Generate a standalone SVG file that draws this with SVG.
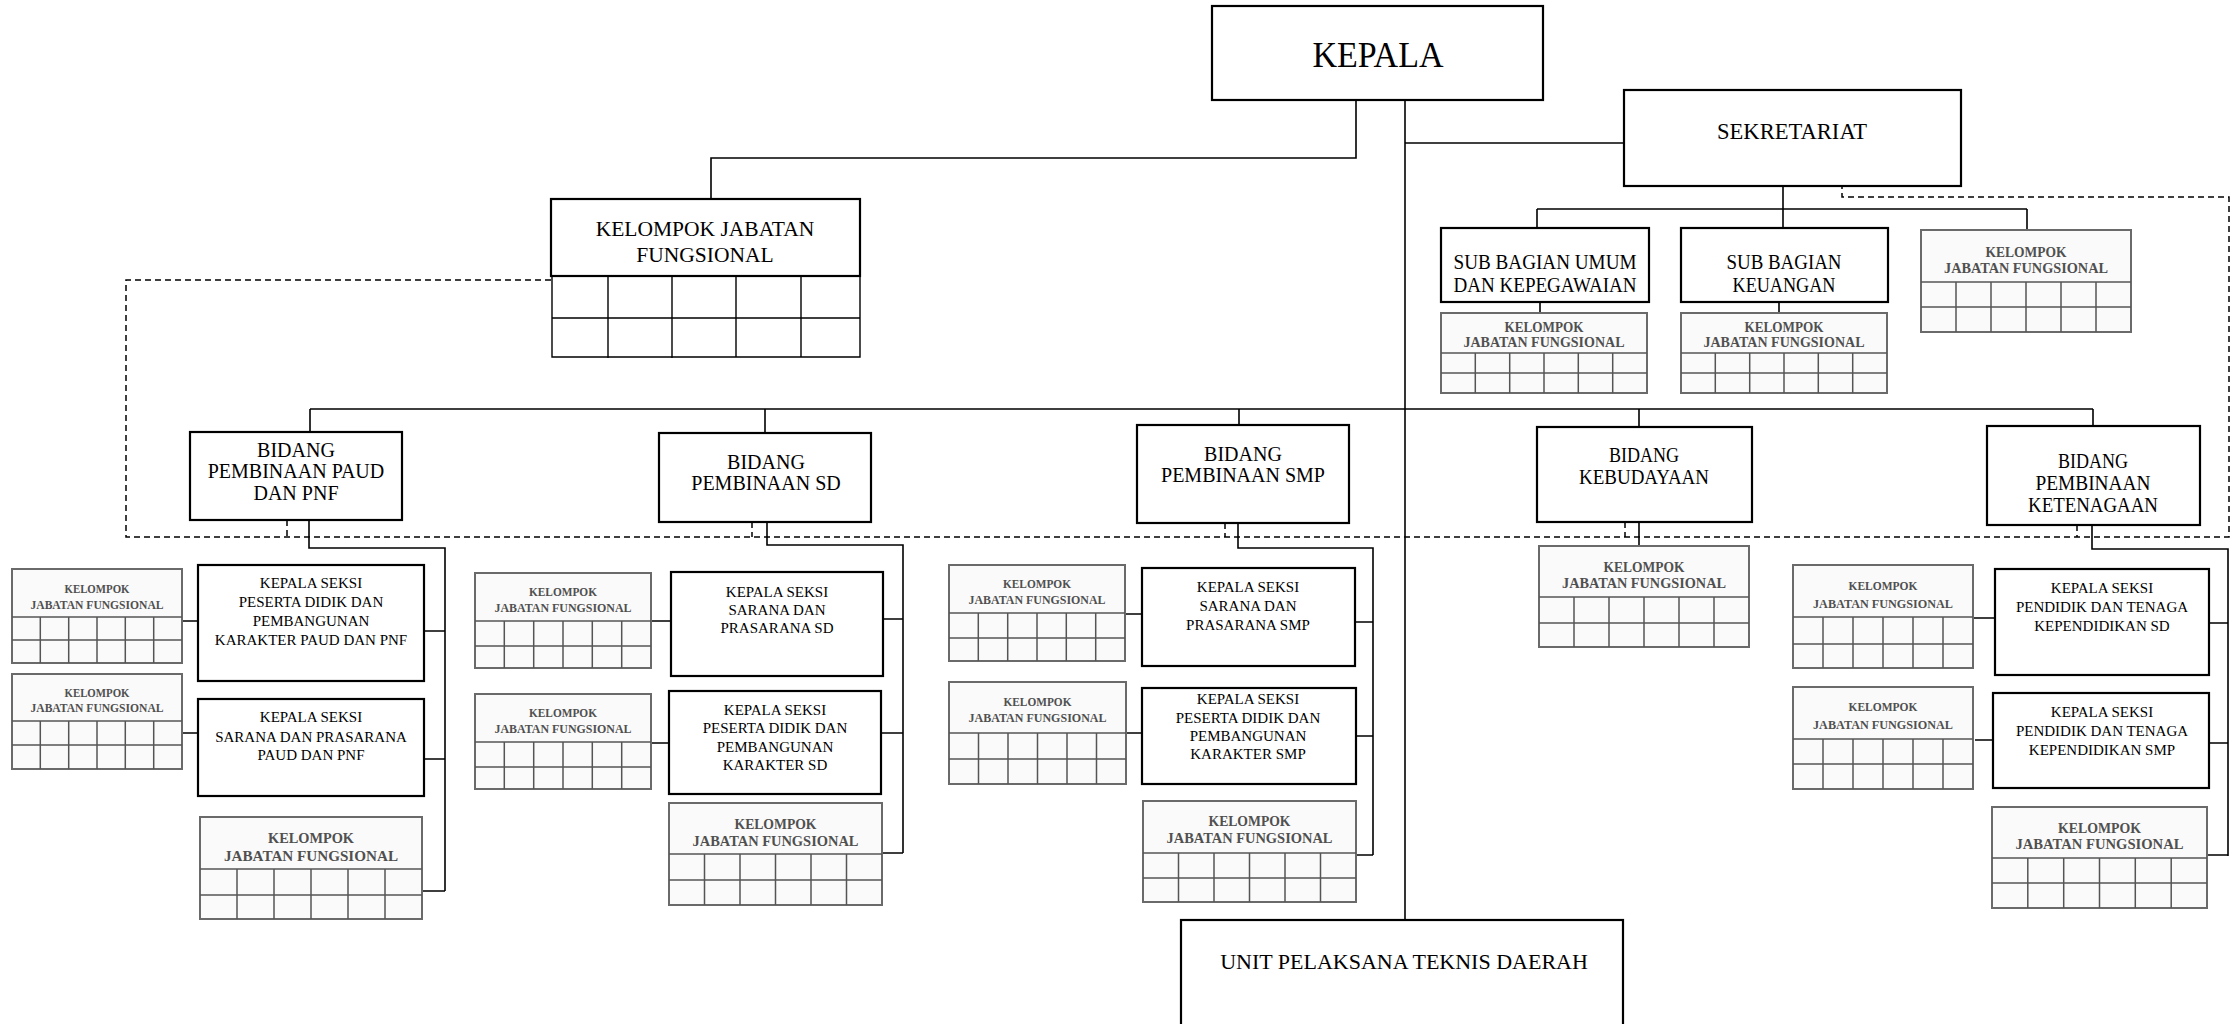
<svg xmlns="http://www.w3.org/2000/svg" width="2240" height="1024" viewBox="0 0 2240 1024">
<style>
.bg{fill:#fff}
.box{fill:#fff;stroke:#000;stroke-width:2.2}
.kjf{fill:#fafafa;stroke:#6a6a6a;stroke-width:2}
.grid{stroke:#555;stroke-width:1.5;fill:none}
.bgrid{stroke:#000;stroke-width:1.4;fill:none}
.conn{stroke:#000;stroke-width:1.6;fill:none}
.dash{stroke:#000;stroke-width:1.5;fill:none;stroke-dasharray:6 4}
.t{font-family:"Liberation Serif",serif;fill:#000;text-anchor:middle}
.kt{font-family:"Liberation Serif",serif;font-weight:bold;fill:#505050;text-anchor:middle}
</style>
<rect class="bg" x="0" y="0" width="2240" height="1024"/>

<g id="connectors">
  <path class="conn" d="M1356 100 V158 H711 V199"/>
  <path class="conn" d="M1405 100 V920"/>
  <path class="conn" d="M1405 143 H1624"/>
  <path class="conn" d="M1783 186 V228 M1537 209 H2027 M1537 209 V228 M2027 209 V230"/>
  <path class="conn" d="M1540 302 V313 M1779 302 V313"/>
  <path class="conn" d="M310 409 H2093 M310 409 V432 M765 409 V433 M1239 409 V425 M1639 409 V427 M2093 409 V426"/>
  <path class="conn" d="M309 520 V548 H445 V891 M424 631 H445 M424 759 H445 M422 891 H445 M182 621 H198 M182 733 H198"/>
  <path class="conn" d="M767 522 V545 H903 V853 M883 619 H903 M881 733 H903 M882 853 H903 M651 621 H671 M651 743 H669"/>
  <path class="conn" d="M1238 523 V548 H1373 V855 M1355 622 H1373 M1356 736 H1373 M1356 855 H1373 M1125 614 H1142 M1126 733 H1142"/>
  <path class="conn" d="M1639 522 V546"/>
  <path class="conn" d="M2092 525 V549 H2228 V856 M2209 623 H2228 M2209 743 H2228 M2207 855 H2228 M1973 618 H1995 M1975 740 H1993"/>
  <path class="dash" d="M551 280 H126 V537 H2229 V197 H1842 V186"/>
  <path class="dash" d="M287 520 V537 M752 522 V537 M1225 523 V537 M1625 522 V537 M2077 525 V537"/>
</g>

<g id="kepala">
  <rect class="box" x="1212" y="6" width="331" height="94"/>
  <text class="t" x="1378" y="67" font-size="36" textLength="131" lengthAdjust="spacingAndGlyphs">KEPALA</text>
</g>

<g id="sekretariat">
  <rect class="box" x="1624" y="90" width="337" height="96"/>
  <text class="t" x="1792" y="139" font-size="23" textLength="150" lengthAdjust="spacingAndGlyphs">SEKRETARIAT</text>
</g>

<g id="kjf-top">
  <rect class="box" x="551" y="199" width="309" height="77"/>
  <text class="t" x="705" y="236" font-size="21.5">KELOMPOK JABATAN</text>
  <text class="t" x="705" y="262" font-size="21.5">FUNGSIONAL</text>
  <path class="bgrid" d="M552 276 V357 H860 V276 M552 318 H860 M608 276 V358 M672 276 V358 M736 276 V357 M801 276 V357"/>
</g>

<g id="sub-umum">
  <rect class="box" x="1441" y="228" width="208" height="74"/>
  <text class="t" x="1545" y="269" font-size="20" textLength="183" lengthAdjust="spacingAndGlyphs">SUB BAGIAN UMUM</text>
  <text class="t" x="1545" y="292" font-size="20" textLength="183" lengthAdjust="spacingAndGlyphs">DAN KEPEGAWAIAN</text>
</g>
<g id="sub-keuangan">
  <rect class="box" x="1681" y="228" width="207" height="74"/>
  <text class="t" x="1784" y="269" font-size="20" textLength="115" lengthAdjust="spacingAndGlyphs">SUB BAGIAN</text>
  <text class="t" x="1784" y="292" font-size="20" textLength="103" lengthAdjust="spacingAndGlyphs">KEUANGAN</text>
</g>

<g id="kjf-sbu">
  <rect class="kjf" x="1441" y="313" width="206" height="80"/>
  <path class="grid" d="M1441 353 H1647 M1441 373 H1647 M1475.3 353 V393 M1509.7 353 V393 M1544 353 V393 M1578.3 353 V393 M1612.7 353 V393"/>
  <text class="kt" x="1544" y="332" font-size="14.4" textLength="79" lengthAdjust="spacingAndGlyphs">KELOMPOK</text>
  <text class="kt" x="1544" y="347" font-size="14.4" textLength="161" lengthAdjust="spacingAndGlyphs">JABATAN FUNGSIONAL</text>
</g>
<g id="kjf-sbk">
  <rect class="kjf" x="1681" y="313" width="206" height="80"/>
  <path class="grid" d="M1681 353 H1887 M1681 373 H1887 M1715.3 353 V393 M1749.7 353 V393 M1784 353 V393 M1818.3 353 V393 M1852.7 353 V393"/>
  <text class="kt" x="1784" y="332" font-size="14.4" textLength="79" lengthAdjust="spacingAndGlyphs">KELOMPOK</text>
  <text class="kt" x="1784" y="347" font-size="14.4" textLength="161" lengthAdjust="spacingAndGlyphs">JABATAN FUNGSIONAL</text>
</g>
<g id="kjf-sek">
  <rect class="kjf" x="1921" y="230" width="210" height="102"/>
  <path class="grid" d="M1921 282 H2131 M1921 307 H2131 M1956 282 V332 M1991 282 V332 M2026 282 V332 M2061 282 V332 M2096 282 V332"/>
  <text class="kt" x="2026" y="257" font-size="14.7" textLength="81" lengthAdjust="spacingAndGlyphs">KELOMPOK</text>
  <text class="kt" x="2026" y="273" font-size="14.7" textLength="164" lengthAdjust="spacingAndGlyphs">JABATAN FUNGSIONAL</text>
</g>

<g id="bidang-paud">
  <rect class="box" x="190" y="432" width="212" height="88"/>
  <text class="t" x="296" y="457" font-size="20">BIDANG</text>
  <text class="t" x="296" y="478" font-size="20">PEMBINAAN PAUD</text>
  <text class="t" x="296" y="500" font-size="20">DAN PNF</text>
</g>
<g id="bidang-sd">
  <rect class="box" x="659" y="433" width="212" height="89"/>
  <text class="t" x="766" y="469" font-size="20">BIDANG</text>
  <text class="t" x="766" y="490" font-size="20">PEMBINAAN SD</text>
</g>
<g id="bidang-smp">
  <rect class="box" x="1137" y="425" width="212" height="98"/>
  <text class="t" x="1243" y="461" font-size="20">BIDANG</text>
  <text class="t" x="1243" y="482" font-size="20">PEMBINAAN SMP</text>
</g>
<g id="bidang-kebudayaan">
  <rect class="box" x="1537" y="427" width="215" height="95"/>
  <text class="t" x="1644" y="462" font-size="20" textLength="70" lengthAdjust="spacingAndGlyphs">BIDANG</text>
  <text class="t" x="1644" y="484" font-size="20" textLength="130" lengthAdjust="spacingAndGlyphs">KEBUDAYAAN</text>
</g>
<g id="bidang-ketenagaan">
  <rect class="box" x="1987" y="426" width="213" height="99"/>
  <text class="t" x="2093" y="468" font-size="20" textLength="70" lengthAdjust="spacingAndGlyphs">BIDANG</text>
  <text class="t" x="2093" y="490" font-size="20" textLength="115" lengthAdjust="spacingAndGlyphs">PEMBINAAN</text>
  <text class="t" x="2093" y="512" font-size="20" textLength="130" lengthAdjust="spacingAndGlyphs">KETENAGAAN</text>
</g>

<g id="seksi-paud-1">
  <rect class="box" x="198" y="565" width="226" height="116"/>
  <text class="t" x="311" y="588" font-size="15">KEPALA SEKSI</text>
  <text class="t" x="311" y="607" font-size="15">PESERTA DIDIK DAN</text>
  <text class="t" x="311" y="626" font-size="15">PEMBANGUNAN</text>
  <text class="t" x="311" y="645" font-size="15">KARAKTER PAUD DAN PNF</text>
</g>
<g id="seksi-paud-2">
  <rect class="box" x="198" y="699" width="226" height="97"/>
  <text class="t" x="311" y="722" font-size="15">KEPALA SEKSI</text>
  <text class="t" x="311" y="742" font-size="15">SARANA DAN PRASARANA</text>
  <text class="t" x="311" y="760" font-size="15">PAUD DAN PNF</text>
</g>
<g id="seksi-sd-1">
  <rect class="box" x="671" y="572" width="212" height="104"/>
  <text class="t" x="777" y="597" font-size="15">KEPALA SEKSI</text>
  <text class="t" x="777" y="615" font-size="15">SARANA DAN</text>
  <text class="t" x="777" y="633" font-size="15">PRASARANA SD</text>
</g>
<g id="seksi-sd-2">
  <rect class="box" x="669" y="691" width="212" height="103"/>
  <text class="t" x="775" y="715" font-size="15">KEPALA SEKSI</text>
  <text class="t" x="775" y="733" font-size="15">PESERTA DIDIK DAN</text>
  <text class="t" x="775" y="752" font-size="15">PEMBANGUNAN</text>
  <text class="t" x="775" y="770" font-size="15">KARAKTER SD</text>
</g>
<g id="seksi-smp-1">
  <rect class="box" x="1142" y="568" width="213" height="98"/>
  <text class="t" x="1248" y="592" font-size="15">KEPALA SEKSI</text>
  <text class="t" x="1248" y="611" font-size="15">SARANA DAN</text>
  <text class="t" x="1248" y="630" font-size="15">PRASARANA SMP</text>
</g>
<g id="seksi-smp-2">
  <rect class="box" x="1142" y="688" width="214" height="96"/>
  <text class="t" x="1248" y="704" font-size="15">KEPALA SEKSI</text>
  <text class="t" x="1248" y="723" font-size="15">PESERTA DIDIK DAN</text>
  <text class="t" x="1248" y="741" font-size="15">PEMBANGUNAN</text>
  <text class="t" x="1248" y="759" font-size="15">KARAKTER SMP</text>
</g>
<g id="seksi-ketenagaan-1">
  <rect class="box" x="1995" y="569" width="214" height="106"/>
  <text class="t" x="2102" y="593" font-size="15">KEPALA SEKSI</text>
  <text class="t" x="2102" y="612" font-size="15">PENDIDIK DAN TENAGA</text>
  <text class="t" x="2102" y="631" font-size="15">KEPENDIDIKAN SD</text>
</g>
<g id="seksi-ketenagaan-2">
  <rect class="box" x="1993" y="693" width="216" height="95"/>
  <text class="t" x="2102" y="717" font-size="15">KEPALA SEKSI</text>
  <text class="t" x="2102" y="736" font-size="15">PENDIDIK DAN TENAGA</text>
  <text class="t" x="2102" y="755" font-size="15">KEPENDIDIKAN SMP</text>
</g>

<g id="kjf-paud-1">
  <rect class="kjf" x="12" y="569" width="170" height="94"/>
  <path class="grid" d="M12 617 H182 M12 640 H182 M40.3 617 V663 M68.7 617 V663 M97 617 V663 M125.3 617 V663 M153.7 617 V663"/>
  <text class="kt" x="97" y="593" font-size="11.9" textLength="65" lengthAdjust="spacingAndGlyphs">KELOMPOK</text>
  <text class="kt" x="97" y="609" font-size="11.9" textLength="133" lengthAdjust="spacingAndGlyphs">JABATAN FUNGSIONAL</text>
</g>
<g id="kjf-paud-2">
  <rect class="kjf" x="12" y="674" width="170" height="95"/>
  <path class="grid" d="M12 721 H182 M12 745 H182 M40.3 721 V769 M68.7 721 V769 M97 721 V769 M125.3 721 V769 M153.7 721 V769"/>
  <text class="kt" x="97" y="697" font-size="11.9" textLength="65" lengthAdjust="spacingAndGlyphs">KELOMPOK</text>
  <text class="kt" x="97" y="712" font-size="11.9" textLength="133" lengthAdjust="spacingAndGlyphs">JABATAN FUNGSIONAL</text>
</g>
<g id="kjf-paud-3">
  <rect class="kjf" x="200" y="817" width="222" height="102"/>
  <path class="grid" d="M200 869 H422 M200 895 H422 M237 869 V919 M274 869 V919 M311 869 V919 M348 869 V919 M385 869 V919"/>
  <text class="kt" x="311" y="843" font-size="15.5" textLength="86" lengthAdjust="spacingAndGlyphs">KELOMPOK</text>
  <text class="kt" x="311" y="861" font-size="15.5" textLength="174" lengthAdjust="spacingAndGlyphs">JABATAN FUNGSIONAL</text>
</g>

<g id="kjf-sd-1">
  <rect class="kjf" x="475" y="573" width="176" height="95"/>
  <path class="grid" d="M475 621 H651 M475 646 H651 M504.3 621 V668 M533.7 621 V668 M563 621 V668 M592.3 621 V668 M621.7 621 V668"/>
  <text class="kt" x="563" y="596" font-size="12.3" textLength="68" lengthAdjust="spacingAndGlyphs">KELOMPOK</text>
  <text class="kt" x="563" y="612" font-size="12.3" textLength="137" lengthAdjust="spacingAndGlyphs">JABATAN FUNGSIONAL</text>
</g>
<g id="kjf-sd-2">
  <rect class="kjf" x="475" y="694" width="176" height="95"/>
  <path class="grid" d="M475 742 H651 M475 767 H651 M504.3 742 V789 M533.7 742 V789 M563 742 V789 M592.3 742 V789 M621.7 742 V789"/>
  <text class="kt" x="563" y="717" font-size="12.3" textLength="68" lengthAdjust="spacingAndGlyphs">KELOMPOK</text>
  <text class="kt" x="563" y="733" font-size="12.3" textLength="137" lengthAdjust="spacingAndGlyphs">JABATAN FUNGSIONAL</text>
</g>
<g id="kjf-sd-3">
  <rect class="kjf" x="669" y="803" width="213" height="102"/>
  <path class="grid" d="M669 854 H882 M669 880 H882 M704.5 854 V905 M740 854 V905 M775.5 854 V905 M811 854 V905 M846.5 854 V905"/>
  <text class="kt" x="775.5" y="829" font-size="14.9" textLength="82" lengthAdjust="spacingAndGlyphs">KELOMPOK</text>
  <text class="kt" x="775.5" y="846" font-size="14.9" textLength="166" lengthAdjust="spacingAndGlyphs">JABATAN FUNGSIONAL</text>
</g>

<g id="kjf-smp-1">
  <rect class="kjf" x="949" y="565" width="176" height="96"/>
  <path class="grid" d="M949 613 H1125 M949 638 H1125 M978.3 613 V661 M1007.7 613 V661 M1037 613 V661 M1066.3 613 V661 M1095.7 613 V661"/>
  <text class="kt" x="1037" y="588" font-size="12.3" textLength="68" lengthAdjust="spacingAndGlyphs">KELOMPOK</text>
  <text class="kt" x="1037" y="604" font-size="12.3" textLength="137" lengthAdjust="spacingAndGlyphs">JABATAN FUNGSIONAL</text>
</g>
<g id="kjf-smp-2">
  <rect class="kjf" x="949" y="682" width="177" height="102"/>
  <path class="grid" d="M949 733 H1126 M949 759 H1126 M978.5 733 V784 M1008 733 V784 M1037.5 733 V784 M1067 733 V784 M1096.5 733 V784"/>
  <text class="kt" x="1037.5" y="706" font-size="12.3" textLength="68" lengthAdjust="spacingAndGlyphs">KELOMPOK</text>
  <text class="kt" x="1037.5" y="722" font-size="12.3" textLength="138" lengthAdjust="spacingAndGlyphs">JABATAN FUNGSIONAL</text>
</g>
<g id="kjf-smp-3">
  <rect class="kjf" x="1143" y="801" width="213" height="101"/>
  <path class="grid" d="M1143 853 H1356 M1143 878 H1356 M1178.5 853 V902 M1214 853 V902 M1249.5 853 V902 M1285 853 V902 M1320.5 853 V902"/>
  <text class="kt" x="1249.5" y="826" font-size="14.9" textLength="82" lengthAdjust="spacingAndGlyphs">KELOMPOK</text>
  <text class="kt" x="1249.5" y="843" font-size="14.9" textLength="166" lengthAdjust="spacingAndGlyphs">JABATAN FUNGSIONAL</text>
</g>

<g id="kjf-kebudayaan">
  <rect class="kjf" x="1539" y="546" width="210" height="101"/>
  <path class="grid" d="M1539 597 H1749 M1539 623 H1749 M1574 597 V647 M1609 597 V647 M1644 597 V647 M1679 597 V647 M1714 597 V647"/>
  <text class="kt" x="1644" y="572" font-size="14.7" textLength="81" lengthAdjust="spacingAndGlyphs">KELOMPOK</text>
  <text class="kt" x="1644" y="588" font-size="14.7" textLength="164" lengthAdjust="spacingAndGlyphs">JABATAN FUNGSIONAL</text>
</g>

<g id="kjf-ketenagaan-1">
  <rect class="kjf" x="1793" y="565" width="180" height="103"/>
  <path class="grid" d="M1793 617 H1973 M1793 644 H1973 M1823 617 V668 M1853 617 V668 M1883 617 V668 M1913 617 V668 M1943 617 V668"/>
  <text class="kt" x="1883" y="590" font-size="12.6" textLength="69" lengthAdjust="spacingAndGlyphs">KELOMPOK</text>
  <text class="kt" x="1883" y="608" font-size="12.6" textLength="140" lengthAdjust="spacingAndGlyphs">JABATAN FUNGSIONAL</text>
</g>
<g id="kjf-ketenagaan-2">
  <rect class="kjf" x="1793" y="687" width="180" height="102"/>
  <path class="grid" d="M1793 739 H1973 M1793 764 H1973 M1823 739 V789 M1853 739 V789 M1883 739 V789 M1913 739 V789 M1943 739 V789"/>
  <text class="kt" x="1883" y="711" font-size="12.6" textLength="69" lengthAdjust="spacingAndGlyphs">KELOMPOK</text>
  <text class="kt" x="1883" y="729" font-size="12.6" textLength="140" lengthAdjust="spacingAndGlyphs">JABATAN FUNGSIONAL</text>
</g>
<g id="kjf-ketenagaan-3">
  <rect class="kjf" x="1992" y="807" width="215" height="101"/>
  <path class="grid" d="M1992 858 H2207 M1992 883 H2207 M2027.8 858 V908 M2063.7 858 V908 M2099.5 858 V908 M2135.3 858 V908 M2171.2 858 V908"/>
  <text class="kt" x="2099.5" y="833" font-size="15" textLength="83" lengthAdjust="spacingAndGlyphs">KELOMPOK</text>
  <text class="kt" x="2099.5" y="849" font-size="15" textLength="168" lengthAdjust="spacingAndGlyphs">JABATAN FUNGSIONAL</text>
</g>

<g id="upt">
  <rect class="box" x="1181" y="920" width="442" height="120"/>
  <text class="t" x="1404" y="969" font-size="22">UNIT PELAKSANA TEKNIS DAERAH</text>
</g>
</svg>
